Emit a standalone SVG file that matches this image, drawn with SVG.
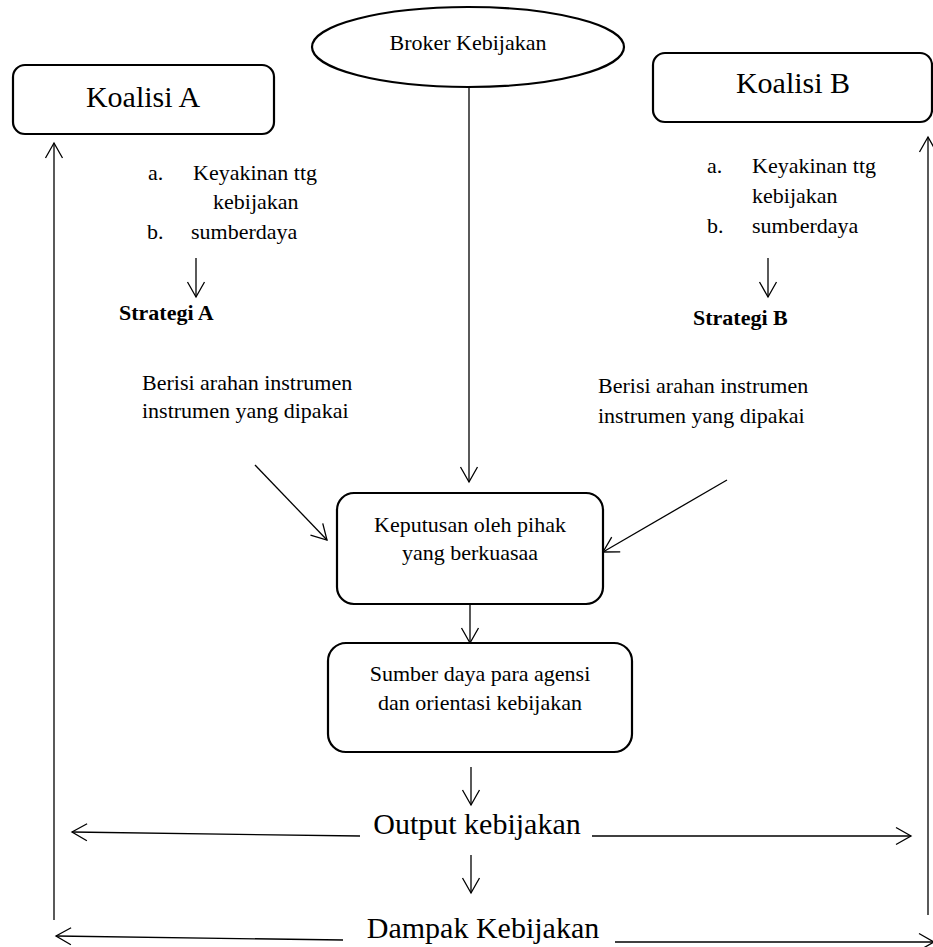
<svg xmlns="http://www.w3.org/2000/svg" width="933" height="947" viewBox="0 0 933 947" font-family="'Liberation Serif', 'Times New Roman', Tinos, 'DejaVu Serif', serif">
<style>
.t{font-family:'Liberation Serif','Times New Roman',Tinos,'DejaVu Serif',serif;fill:#000}
.m{font-size:22px}
.l{font-size:30px}
.b{font-weight:bold}
.box{fill:#fff;stroke:#000;stroke-width:2.2}
.ln{fill:none;stroke:#000;stroke-width:1.3;marker-end:url(#arr)}
</style>
<defs>
<marker id="arr" viewBox="-17 -10 19 20" refX="0" refY="0" markerWidth="19" markerHeight="20" orient="auto" markerUnits="userSpaceOnUse">
<path d="M-15,-8.5 L0,0 L-15,8.5" fill="none" stroke="#000" stroke-width="1.3"/>
</marker>
</defs>
<rect width="933" height="947" fill="#fff"/>
<g id="connectors">
<line class="ln" x1="469" y1="87" x2="469" y2="482"/>
<line class="ln" x1="54" y1="920" x2="54" y2="143"/>
<line class="ln" x1="928" y1="915" x2="928" y2="137"/>
<line class="ln" x1="196" y1="258" x2="196" y2="297"/>
<line class="ln" x1="768" y1="258" x2="768" y2="297"/>
<line class="ln" x1="255" y1="465" x2="327" y2="540"/>
<line class="ln" x1="727" y1="480" x2="603" y2="552"/>
<line class="ln" x1="470" y1="604" x2="470" y2="643"/>
<line class="ln" x1="471" y1="767" x2="471" y2="805"/>
<line class="ln" x1="471" y1="855" x2="471" y2="893"/>
<line class="ln" x1="360" y1="836" x2="72" y2="832"/>
<line class="ln" x1="592" y1="836" x2="911" y2="836"/>
<line class="ln" x1="343" y1="940" x2="56" y2="936"/>
<line class="ln" x1="615" y1="942" x2="934" y2="942"/>
</g>
<g id="broker">
<ellipse class="box" cx="468" cy="47" rx="156" ry="40"/>
<text class="t m" x="468" y="50" text-anchor="middle">Broker Kebijakan</text>
</g>
<g id="koalisi-a">
<rect class="box" x="13" y="65" width="261" height="69" rx="12"/>
<text class="t l" x="143" y="107" text-anchor="middle">Koalisi A</text>
</g>
<g id="koalisi-b">
<rect class="box" x="653" y="53" width="279" height="69" rx="12"/>
<text class="t l" x="793" y="93" text-anchor="middle">Koalisi B</text>
</g>
<g id="list-a">
<text class="t m" x="148" y="180">a.</text>
<text class="t m" x="193" y="180">Keyakinan ttg</text>
<text class="t m" x="213" y="209">kebijakan</text>
<text class="t m" x="147" y="239">b.</text>
<text class="t m" x="191" y="239">sumberdaya</text>
</g>
<g id="strategi-a">
<text class="t m b" x="119" y="320">Strategi A</text>
</g>
<g id="berisi-a">
<text class="t m" x="142" y="390">Berisi arahan instrumen</text>
<text class="t m" x="142" y="418">instrumen yang dipakai</text>
</g>
<g id="list-b">
<text class="t m" x="707" y="173">a.</text>
<text class="t m" x="752" y="173">Keyakinan ttg</text>
<text class="t m" x="752" y="203">kebijakan</text>
<text class="t m" x="707" y="233">b.</text>
<text class="t m" x="752" y="233">sumberdaya</text>
</g>
<g id="strategi-b">
<text class="t m b" x="693" y="325">Strategi B</text>
</g>
<g id="berisi-b">
<text class="t m" x="598" y="393">Berisi arahan instrumen</text>
<text class="t m" x="598" y="423">instrumen yang dipakai</text>
</g>
<g id="keputusan">
<rect class="box" x="337" y="493" width="266" height="111" rx="17"/>
<text class="t m" x="470" y="532" text-anchor="middle">Keputusan oleh pihak</text>
<text class="t m" x="470" y="560" text-anchor="middle">yang berkuasaa</text>
</g>
<g id="sumber">
<rect class="box" x="328" y="643" width="304" height="109" rx="18"/>
<text class="t m" x="480" y="681" text-anchor="middle">Sumber daya para agensi</text>
<text class="t m" x="480" y="710" text-anchor="middle">dan orientasi kebijakan</text>
</g>
<g id="output">
<text class="t l" x="477" y="834" text-anchor="middle">Output kebijakan</text>
</g>
<g id="dampak">
<text class="t l" x="483" y="938" text-anchor="middle">Dampak Kebijakan</text>
</g>
</svg>
